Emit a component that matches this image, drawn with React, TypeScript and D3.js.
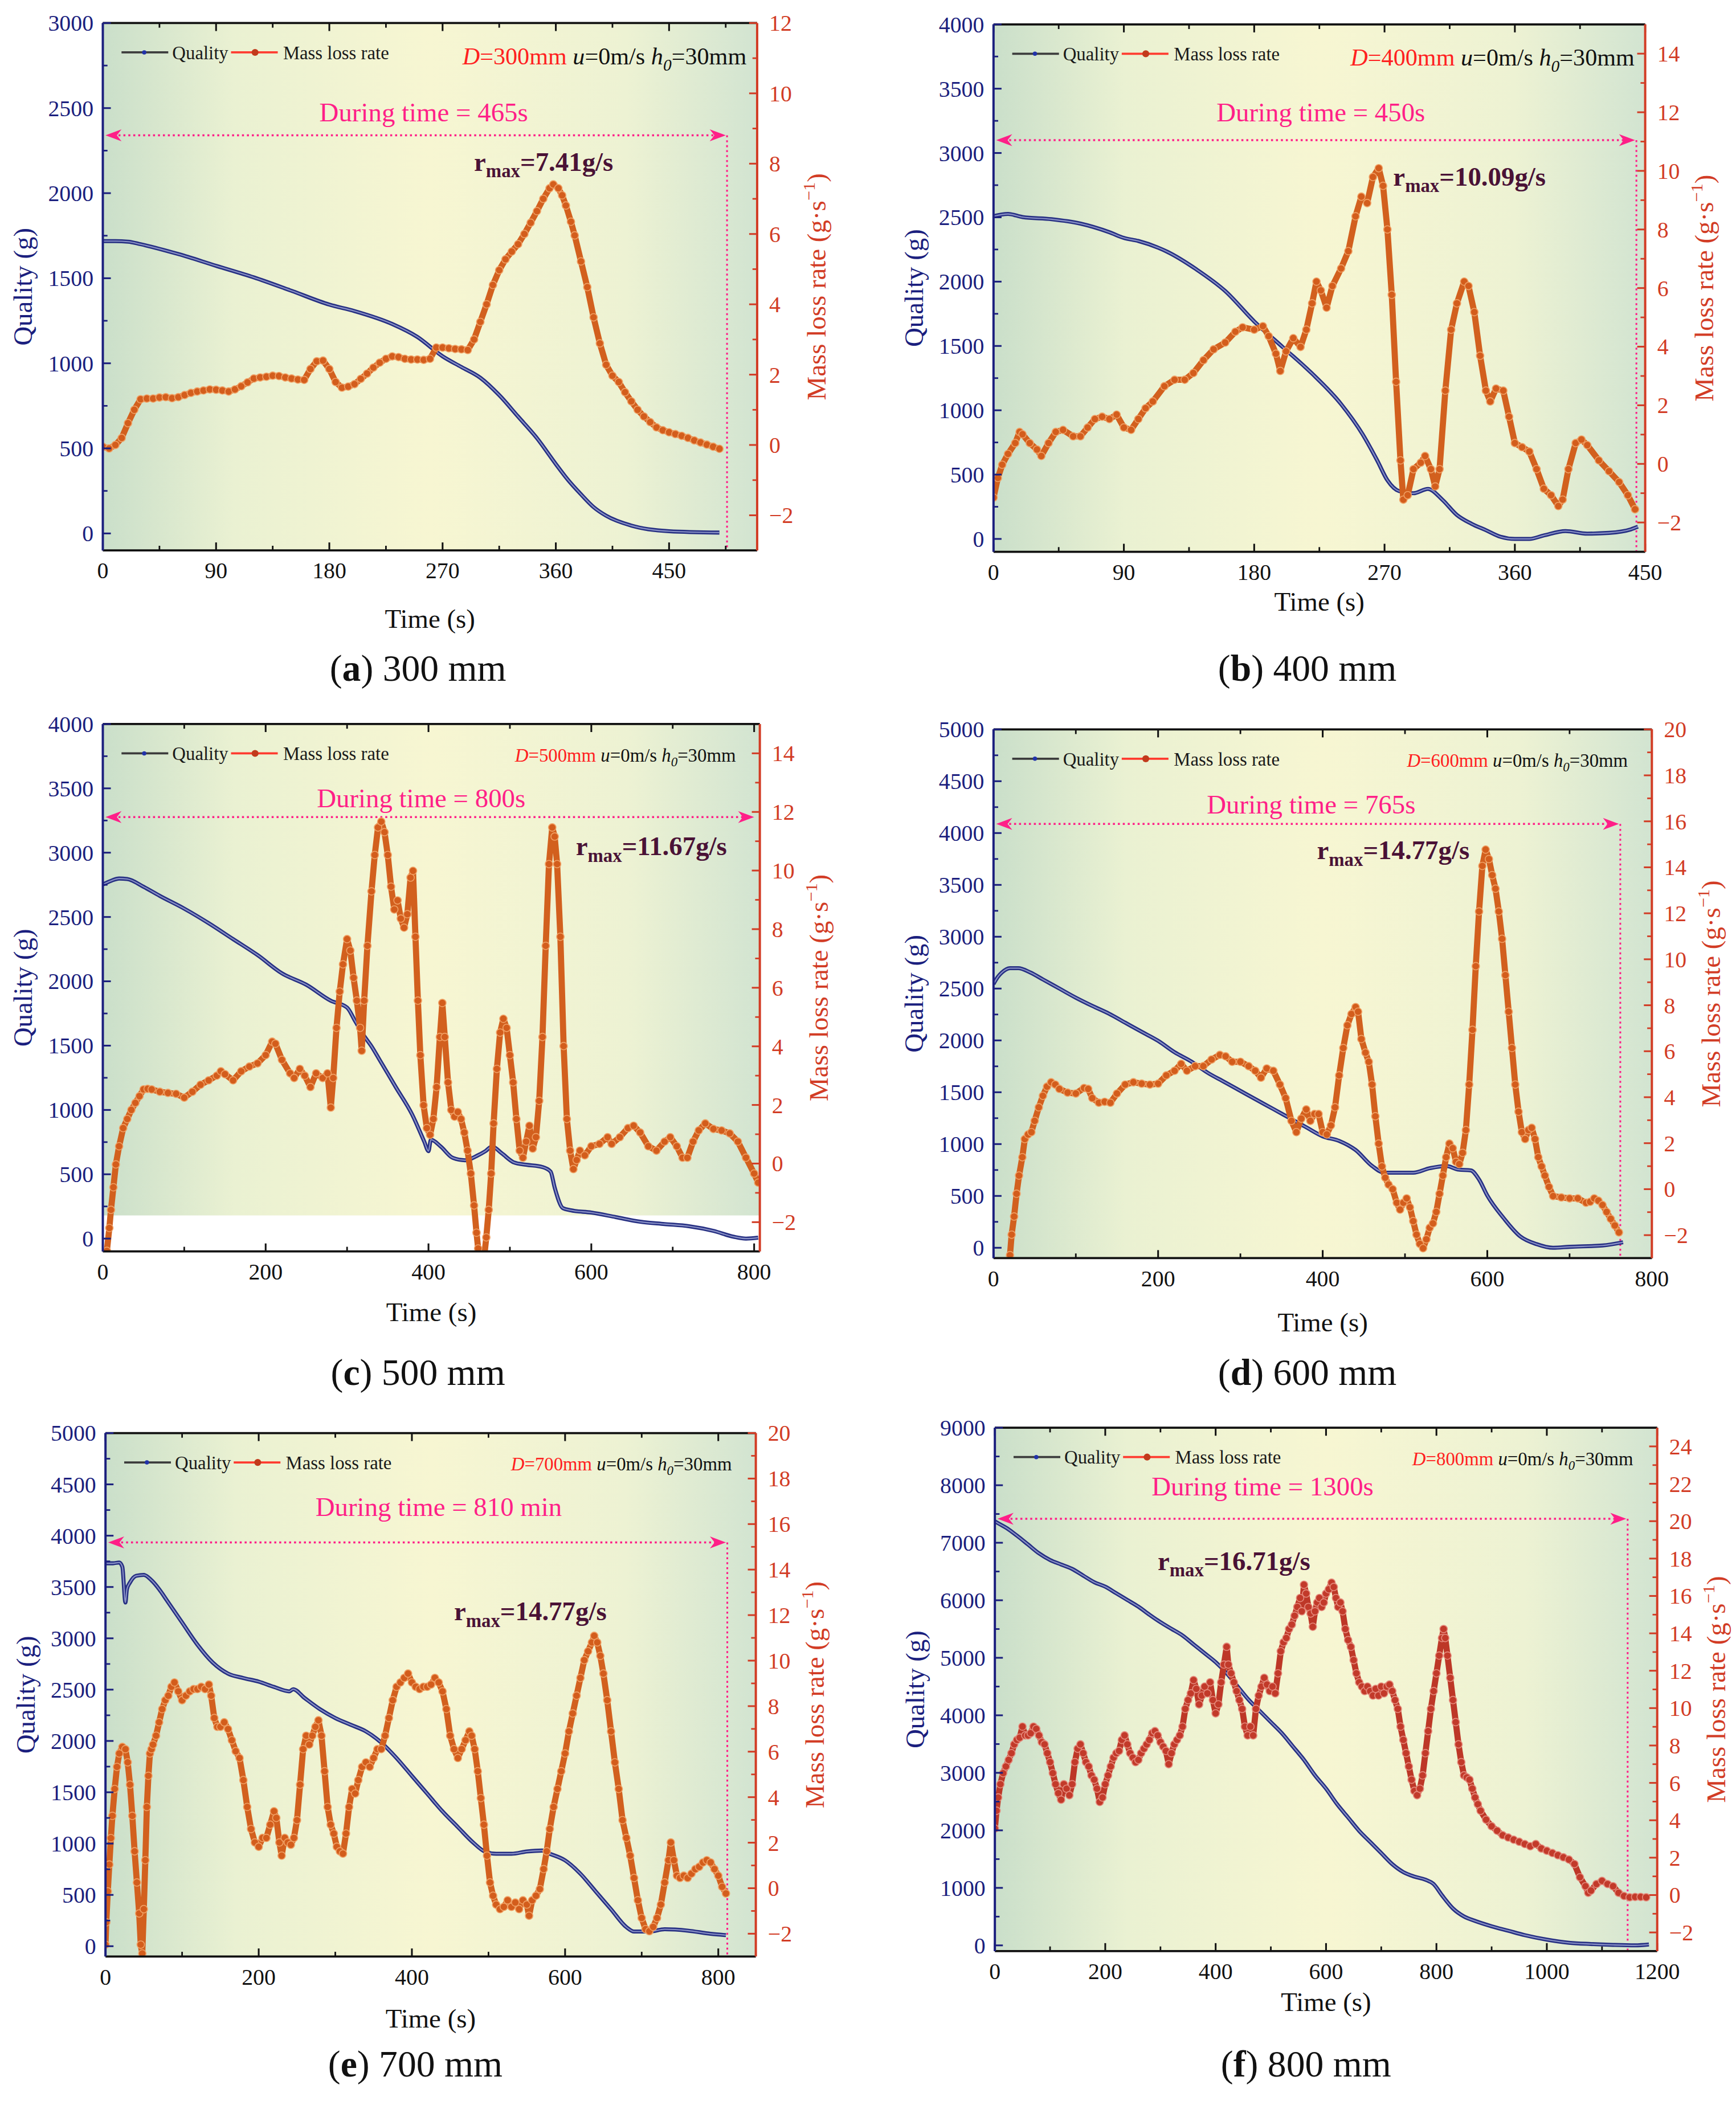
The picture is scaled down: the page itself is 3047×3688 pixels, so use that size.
import * as d3 from "d3";

type Pt = [number, number];

const FONT = "'Liberation Serif', 'Times New Roman', Times, serif";
const NAVY = "#1b1f7e";
const RED_AXIS = "#d23c25";
const MAGENTA = "#ff1f88";
const MAROON = "#4a1236";

// (a) D = 300 mm
const qualityA: Pt[] = [[0,1718],[10,1718],[20,1715],[30,1700],[60,1642],[90,1573],[120,1505],[150,1426],[180,1345],[200,1307],[230,1231],[250,1155],[270,1041],[285,978],[300,915],[315,813],[330,687],[345,560],[360,408],[370,312],[380,230],[390,155],[400,104],[420,46],[450,13],[490,5]];
const rateA: Pt[] = [[0,-0.05],[5,-0.1],[10,0],[15,0.2],[20,0.62],[25,1.0],[30,1.3],[35,1.32],[40,1.32],[45,1.35],[50,1.36],[55,1.33],[60,1.36],[65,1.42],[70,1.48],[75,1.52],[80,1.55],[85,1.58],[90,1.57],[95,1.55],[100,1.52],[105,1.58],[110,1.67],[115,1.78],[120,1.89],[125,1.92],[130,1.94],[135,1.97],[140,1.96],[145,1.92],[150,1.89],[155,1.86],[160,1.85],[165,2.16],[170,2.38],[175,2.4],[180,2.16],[185,1.79],[190,1.63],[195,1.66],[200,1.73],[205,1.88],[210,2.03],[215,2.2],[220,2.34],[225,2.45],[230,2.52],[235,2.5],[240,2.45],[245,2.43],[250,2.43],[255,2.42],[260,2.45],[265,2.77],[270,2.77],[275,2.75],[280,2.73],[285,2.72],[290,2.7],[295,3.0],[300,3.5],[305,4.0],[310,4.55],[315,4.97],[320,5.28],[325,5.5],[330,5.71],[335,6.0],[340,6.32],[345,6.65],[350,7.0],[355,7.3],[358,7.41],[362,7.3],[365,7.1],[368,6.81],[372,6.35],[375,5.96],[380,5.22],[385,4.49],[390,3.63],[395,2.89],[400,2.28],[405,1.97],[410,1.79],[415,1.5],[420,1.24],[425,1.0],[430,0.81],[435,0.65],[440,0.5],[445,0.42],[450,0.36],[455,0.31],[460,0.26],[465,0.2],[470,0.13],[475,0.07],[480,0.01],[485,-0.05],[490,-0.11]];

// (b) D = 400 mm
const qualityB: Pt[] = [[0,2509],[10,2526],[20,2502],[40,2485],[60,2451],[80,2384],[90,2340],[100,2316],[120,2232],[140,2096],[160,1927],[180,1691],[200,1488],[220,1285],[240,1048],[255,811],[265,609],[272,456],[280,372],[290,355],[300,389],[310,304],[320,186],[330,118],[340,68],[350,17],[360,0],[370,0],[380,27],[395,61],[410,41],[425,47],[440,74],[445,95]];
const rateB: Pt[] = [[0,-1.15],[3,-0.48],[6,-0.03],[10,0.34],[15,0.71],[18,1.09],[20,1.01],[25,0.71],[30,0.49],[33,0.27],[38,0.71],[43,1.09],[48,1.16],[55,0.94],[60,0.94],[65,1.24],[70,1.53],[75,1.61],[80,1.53],[85,1.68],[90,1.24],[95,1.16],[100,1.53],[105,1.9],[110,2.13],[118,2.65],[125,2.87],[132,2.87],[138,3.1],[145,3.54],[152,3.91],[160,4.14],[167,4.51],[172,4.66],[180,4.58],[186,4.7],[190,4.36],[195,3.76],[198,3.17],[202,3.84],[207,4.29],[212,3.99],[216,4.58],[220,5.48],[223,6.22],[226,5.92],[230,5.33],[234,6.07],[240,6.67],[245,7.26],[250,8.45],[254,9.12],[258,8.9],[262,9.79],[266,10.09],[269,9.49],[272,8.0],[275,5.77],[278,2.8],[281,0.12],[283,-1.22],[286,-1.07],[290,-0.18],[295,0.04],[298,0.27],[302,-0.18],[305,-0.77],[308,-0.18],[312,2.5],[316,4.58],[320,5.48],[325,6.22],[328,6.07],[332,5.18],[336,3.69],[340,2.5],[343,2.13],[347,2.57],[352,2.5],[356,1.61],[360,0.71],[365,0.57],[370,0.42],[375,-0.18],[380,-0.85],[385,-1.07],[390,-1.44],[393,-1.22],[397,-0.18],[402,0.71],[406,0.83],[410,0.64],[418,0.12],[425,-0.25],[432,-0.62],[438,-1.07],[443,-1.55]];

// (c) D = 500 mm
const qualityC: Pt[] = [[0,2753],[10,2781],[20,2799],[30,2795],[50,2735],[70,2664],[100,2565],[130,2452],[160,2328],[190,2204],[220,2062],[250,1973],[280,1849],[300,1796],[310,1690],[320,1584],[330,1495],[340,1389],[360,1176],[380,964],[395,751],[400,680],[403,769],[415,716],[430,627],[445,609],[460,645],[470,680],[478,716],[490,663],[505,592],[520,574],[540,556],[550,521],[555,397],[565,237],[575,220],[600,202],[630,167],[660,131],[690,113],[720,96],[750,60],[775,14],[790,0],[805,7]];
const rateC: Pt[] = [[5,-2.98],[8,-2.2],[10,-1.58],[13,-0.81],[16,-0.03],[20,0.59],[25,1.21],[30,1.52],[35,1.83],[40,2.07],[45,2.3],[50,2.53],[55,2.55],[60,2.53],[70,2.45],[80,2.41],[90,2.38],[100,2.25],[110,2.45],[120,2.69],[130,2.84],[140,3.0],[145,3.15],[150,3.05],[160,2.84],[170,3.15],[180,3.31],[190,3.42],[200,3.7],[208,4.16],[212,4.09],[220,3.54],[230,3.08],[235,2.92],[242,3.23],[248,3.0],[255,2.61],[262,3.08],[270,2.92],[276,3.08],[280,1.91],[283,2.92],[287,4.63],[291,5.87],[295,6.8],[300,7.66],[304,7.27],[308,6.34],[312,5.56],[316,4.63],[318,3.85],[321,5.56],[325,7.43],[330,9.29],[334,10.53],[338,11.47],[342,11.67],[346,11.31],[350,10.53],[354,9.45],[358,8.67],[362,8.98],[366,8.36],[370,8.05],[374,8.51],[378,9.76],[381,9.99],[384,7.74],[387,5.56],[390,3.7],[394,1.99],[398,1.21],[402,0.98],[406,1.52],[410,2.61],[414,4.32],[417,5.48],[420,4.32],[424,2.77],[428,1.83],[432,1.6],[436,1.76],[440,1.52],[444,1.06],[448,0.44],[452,-0.34],[456,-1.43],[459,-2.36],[461,-2.9],[464,-3.3],[468,-3.3],[471,-2.52],[474,-1.58],[477,-0.34],[480,1.37],[484,3.23],[488,4.47],[492,4.94],[496,4.63],[500,3.7],[504,2.77],[508,1.52],[512,0.44],[516,0.2],[520,0.75],[524,1.29],[528,0.51],[532,0.9],[536,2.14],[540,4.32],[544,7.43],[548,10.22],[552,11.47],[555,11.16],[558,10.22],[562,7.74],[566,4.01],[570,1.52],[574,0.44],[578,-0.19],[582,0.12],[586,0.44],[592,0.28],[600,0.59],[610,0.67],[620,0.9],[625,0.67],[635,0.9],[645,1.21],[652,1.29],[660,1.06],[670,0.59],[680,0.44],[690,0.75],[697,0.9],[705,0.59],[712,0.2],[718,0.2],[725,0.75],[732,1.13],[740,1.37],[750,1.18],[760,1.13],[770,1.03],[780,0.75],[790,0.2],[800,-0.34],[805,-0.65]];

// (d) D = 600 mm
const qualityD: Pt[] = [[0,2544],[5,2610],[10,2654],[20,2697],[30,2697],[45,2654],[60,2588],[80,2500],[100,2412],[120,2333],[140,2259],[160,2171],[180,2083],[200,1996],[220,1886],[240,1798],[260,1689],[280,1601],[300,1513],[320,1425],[340,1338],[360,1250],[380,1162],[400,1075],[420,1031],[440,943],[460,789],[475,724],[490,724],[510,724],[530,767],[550,789],[565,754],[580,746],[590,658],[600,504],[620,285],[640,110],[660,35],[680,0],[700,9],[740,22],[765,53]];
const rateD: Pt[] = [[20,-2.87],[22,-1.98],[25,-1.19],[28,-0.2],[31,0.59],[35,1.39],[38,2.18],[42,2.38],[46,2.48],[50,2.97],[55,3.56],[60,4.06],[65,4.46],[70,4.65],[75,4.55],[80,4.36],[90,4.2],[100,4.16],[110,4.4],[115,4.36],[120,3.96],[128,3.76],[135,3.8],[142,3.76],[150,4.16],[160,4.55],[170,4.65],[180,4.59],[190,4.55],[200,4.59],[210,4.95],[220,5.15],[228,5.45],[235,5.15],[245,5.35],[255,5.35],[265,5.64],[275,5.84],[282,5.78],[290,5.54],[300,5.54],[310,5.35],[318,5.15],[325,4.85],[332,5.25],[340,5.15],[348,4.55],[355,3.96],[362,2.97],[368,2.48],[374,3.07],[380,3.47],[385,2.97],[390,3.27],[395,3.27],[400,2.48],[405,2.38],[410,2.77],[415,3.56],[420,4.95],[425,6.14],[430,7.13],[435,7.62],[440,7.92],[443,7.72],[447,6.53],[452,5.94],[456,5.54],[460,4.55],[464,3.17],[468,1.98],[472,0.99],[476,0.5],[480,0.2],[485,0],[490,-0.59],[494,-0.89],[498,-0.59],[502,-0.4],[506,-0.79],[510,-1.39],[514,-1.98],[518,-2.38],[522,-2.57],[526,-2.18],[530,-1.68],[534,-1.49],[538,-0.99],[542,-0.2],[546,0.59],[550,1.39],[554,1.98],[558,1.78],[562,1.19],[566,1.09],[570,1.58],[574,2.57],[578,4.55],[582,6.93],[586,9.7],[590,12.08],[594,14.06],[598,14.77],[602,14.36],[606,13.66],[610,13.07],[614,12.08],[618,10.89],[622,9.31],[626,7.72],[630,6.14],[634,4.55],[638,3.37],[642,2.48],[646,2.18],[650,2.57],[654,2.67],[658,2.18],[662,1.39],[666,0.99],[670,0.59],[675,0.1],[680,-0.3],[690,-0.36],[700,-0.4],[710,-0.4],[720,-0.59],[725,-0.55],[730,-0.4],[735,-0.5],[740,-0.69],[745,-0.99],[750,-1.29],[755,-1.58],[760,-1.88]];

// (e) D = 700 mm
const qualityE: Pt[] = [[0,3731],[10,3731],[18,3739],[22,3696],[26,3349],[28,3479],[32,3544],[40,3609],[50,3618],[60,3566],[70,3479],[80,3371],[100,3154],[120,2938],[140,2764],[160,2656],[180,2613],[200,2578],[220,2526],[240,2483],[245,2504],[260,2418],[280,2309],[300,2223],[320,2158],[340,2093],[360,1984],[380,1833],[400,1659],[420,1486],[440,1313],[460,1161],[480,1010],[495,923],[510,901],[530,901],[550,923],[570,932],[580,901],[600,836],[620,706],[640,533],[660,360],[680,186],[690,143],[710,143],[730,165],[760,152],[790,121],[810,108]];
const rateE: Pt[] = [[0,-2.48],[1,-1.5],[3,-0.14],[5,1.04],[7,2.2],[9,3.18],[12,4.36],[15,5.33],[18,5.92],[22,6.21],[26,6.11],[29,5.53],[32,4.55],[35,3.18],[38,1.62],[41,0.25],[44,-1.11],[46,-2.48],[48,-2.87],[50,-0.92],[52,1.23],[54,3.57],[56,4.94],[58,5.92],[60,6.11],[62,6.31],[66,6.7],[70,7.29],[74,7.87],[78,8.26],[82,8.46],[86,8.85],[90,9.04],[95,8.65],[100,8.26],[105,8.46],[110,8.65],[115,8.75],[120,8.75],[125,8.85],[130,8.75],[135,8.95],[138,8.46],[142,7.48],[146,7.09],[150,7.09],[155,7.29],[160,6.99],[165,6.5],[170,6.02],[175,5.72],[180,4.75],[185,3.57],[190,2.6],[195,2.01],[200,1.82],[205,2.21],[210,2.21],[215,2.79],[220,3.38],[223,3.09],[227,2.01],[230,1.43],[234,2.21],[238,2.01],[242,1.91],[246,2.21],[250,2.99],[254,4.55],[258,6.11],[262,6.7],[266,6.31],[270,6.7],[274,7.09],[278,7.38],[282,6.7],[286,5.14],[290,3.57],[294,2.79],[298,2.4],[302,1.82],[306,1.62],[310,1.52],[314,2.4],[318,3.57],[322,4.36],[326,4.16],[330,4.75],[335,5.33],[340,5.53],[345,5.33],[350,5.72],[355,6.11],[360,6.11],[365,6.7],[370,7.48],[375,8.26],[380,8.85],[385,9.04],[390,9.24],[395,9.43],[400,9.04],[405,8.85],[410,8.75],[415,8.85],[420,8.85],[425,8.95],[430,9.24],[435,9.04],[440,8.65],[445,7.87],[450,6.7],[455,6.11],[460,5.72],[465,6.11],[470,6.5],[475,6.89],[478,6.7],[482,6.11],[486,5.14],[490,3.96],[494,2.79],[498,1.43],[502,0.25],[506,-0.33],[510,-0.72],[515,-0.92],[520,-0.82],[525,-0.53],[530,-0.82],[535,-0.63],[540,-0.92],[545,-0.53],[550,-0.72],[553,-1.21],[557,-0.53],[562,-0.33],[567,-0.04],[572,0.84],[576,1.62],[580,2.6],[585,3.57],[590,4.36],[595,5.14],[600,5.92],[605,6.89],[610,7.68],[615,8.46],[620,9.24],[625,10.02],[630,10.41],[635,10.8],[638,11.09],[642,10.8],[646,10.21],[650,9.43],[655,8.26],[660,6.89],[665,5.53],[670,4.36],[675,2.99],[680,2.21],[685,1.43],[690,0.45],[695,-0.53],[700,-1.31],[705,-1.8],[710,-1.89],[715,-1.7],[720,-1.31],[725,-0.72],[730,0.25],[735,1.23],[738,2.01],[742,1.23],[746,0.55],[750,0.45],[755,0.55],[760,0.45],[765,0.64],[770,0.84],[775,0.94],[780,1.13],[785,1.23],[790,1.13],[795,0.84],[800,0.55],[805,0.06],[810,-0.23]];

// (f) D = 800 mm
const qualityF: Pt[] = [[0,7371],[10,7317],[20,7263],[40,7124],[60,6970],[80,6815],[100,6700],[120,6622],[140,6545],[160,6429],[180,6314],[200,6236],[220,6121],[240,6005],[260,5889],[280,5750],[300,5619],[320,5503],[340,5388],[360,5233],[380,5079],[400,4924],[420,4731],[440,4500],[460,4268],[480,4075],[500,3882],[520,3689],[540,3458],[560,3226],[580,2956],[600,2725],[620,2455],[640,2223],[660,1991],[680,1798],[700,1605],[720,1412],[740,1274],[760,1196],[780,1142],[795,1065],[810,872],[830,641],[850,502],[870,425],[900,332],[930,255],[960,178],[1000,100],[1040,46],[1080,23],[1120,8],[1160,0],[1185,15]];
const rateF: Pt[] = [[0,3.56],[3,4.51],[6,5.22],[10,5.93],[15,6.52],[20,6.88],[25,7.23],[30,7.59],[35,8.06],[40,8.3],[45,8.42],[50,9.01],[55,8.54],[60,8.54],[65,8.66],[70,9.01],[75,8.89],[80,8.54],[85,8.18],[90,8.06],[95,7.59],[100,7.11],[105,6.52],[110,5.93],[115,5.45],[120,5.1],[125,5.93],[130,5.69],[135,5.34],[140,5.93],[145,7.11],[150,7.83],[155,8.06],[160,7.59],[165,7.11],[170,6.88],[175,6.4],[180,6.17],[185,5.69],[190,4.98],[195,5.22],[200,5.93],[205,6.4],[210,6.88],[215,7.35],[220,7.59],[225,7.71],[230,8.3],[235,8.54],[240,8.06],[245,7.59],[250,7.35],[255,7.11],[260,7.23],[265,7.59],[270,7.83],[275,8.06],[280,8.3],[285,8.66],[290,8.77],[295,8.54],[300,8.18],[305,7.94],[310,7.71],[315,7.0],[320,7.59],[325,8.06],[330,8.3],[335,8.54],[340,9.01],[345,9.96],[350,10.43],[355,10.79],[360,11.5],[365,11.03],[370,10.2],[375,10.67],[380,11.15],[385,10.79],[390,11.38],[395,10.43],[400,9.72],[405,10.2],[410,11.38],[415,12.33],[420,13.28],[423,12.33],[428,11.86],[433,11.38],[438,10.91],[443,10.43],[448,9.96],[453,9.01],[458,8.54],[463,9.01],[468,8.54],[473,9.96],[478,10.67],[483,11.15],[488,11.62],[493,11.26],[498,10.91],[503,11.15],[508,10.79],[513,11.86],[518,13.04],[523,13.52],[528,13.75],[533,14.23],[538,14.47],[543,14.94],[548,15.41],[553,15.89],[556,15.18],[560,16.6],[564,16.13],[568,15.41],[572,15.06],[576,14.35],[580,15.18],[584,15.65],[588,15.89],[592,15.41],[596,15.65],[600,16.13],[605,16.36],[610,16.71],[614,16.48],[618,15.89],[622,15.41],[626,15.65],[630,15.18],[635,14.23],[640,13.64],[645,13.28],[650,12.57],[655,11.86],[660,11.38],[665,11.15],[670,10.91],[675,11.15],[680,10.91],[685,10.67],[690,11.03],[695,10.67],[700,11.15],[705,10.79],[710,11.15],[715,11.26],[720,10.91],[725,10.43],[730,9.96],[735,9.01],[740,8.3],[745,7.59],[750,6.88],[755,6.17],[760,5.57],[765,5.34],[770,5.69],[775,6.4],[780,7.59],[785,8.77],[790,9.96],[795,10.91],[800,11.86],[805,12.81],[810,13.75],[813,14.23],[816,13.75],[820,12.81],[825,11.62],[830,10.43],[835,9.25],[840,8.06],[845,7.11],[850,6.4],[855,6.29],[860,6.17],[865,5.69],[870,5.22],[875,4.86],[880,4.51],[890,4.03],[900,3.68],[910,3.44],[920,3.2],[930,3.08],[940,2.96],[950,2.85],[960,2.73],[970,2.61],[980,2.73],[990,2.49],[1000,2.37],[1010,2.25],[1020,2.13],[1030,2.02],[1040,1.9],[1050,1.66],[1060,0.95],[1070,0.47],[1075,0.12],[1080,0.24],[1090,0.59],[1100,0.76],[1110,0.59],[1120,0.47],[1130,0.12],[1140,-0.05],[1150,-0.12],[1160,-0.1],[1170,-0.1],[1180,-0.12]];

// tick values
const xTicks90 = [0, 90, 180, 270, 360, 450];
const xTicks200 = [0, 200, 400, 600, 800];
const xTicks1200 = [0, 200, 400, 600, 800, 1000, 1200];

type Cfg = {
  id: string; label: string; size: string;
  L: number; R: number; T: number; B: number;
  xMax: number; xTicks: number[]; xMinor: number;
  yL: [number, number]; lStep: number; lMinor: number;
  yR: [number, number];
  quality: Pt[]; rate: Pt[];
  diam: string; bigNote: boolean;
  dur: string; durX: number; durY: number;
  arrowY: number; arrowEnd: number; vline: boolean;
  rmax: string; rmaxX: number; rmaxY: number;
  timeY: number; capX: number; capY: number;
  bgBottom?: number; crimson?: boolean;
};

const panels: Cfg[] = [
  { id: "a", label: "a", size: "300 mm", L: 77, R: 567, T: 17, B: 412, xMax: 520, xTicks: xTicks90, xMinor: 45,
    yL: [-100, 3000], lStep: 500, lMinor: 250, yR: [-3, 12], quality: qualityA, rate: rateA,
    diam: "300", bigNote: true, dur: "During time = 465s", durX: 255, durY: 2422, arrowY: 2340, arrowEnd: 495, vline: true,
    rmax: "=7.41g/s", rmaxX: 295, rmaxY: 7.8, timeY: 463, capX: 313, capY: 500 },
  { id: "b", label: "b", size: "400 mm", L: 744, R: 1232, T: 18, B: 413, xMax: 450, xTicks: xTicks90, xMinor: 45,
    yL: [-100, 4000], lStep: 500, lMinor: 250, yR: [-3, 15], quality: qualityB, rate: rateB,
    diam: "400", bigNote: true, dur: "During time = 450s", durX: 226, durY: 3246, arrowY: 3100, arrowEnd: 443, vline: true,
    rmax: "=10.09g/s", rmaxX: 276, rmaxY: 9.5, timeY: 450, capX: 979, capY: 500 },
  { id: "c", label: "c", size: "500 mm", L: 77, R: 569, T: 542, B: 937, xMax: 807, xTicks: xTicks200, xMinor: 100,
    yL: [-100, 4000], lStep: 500, lMinor: 250, yR: [-3, 15], quality: qualityC, rate: rateC,
    diam: "500", bigNote: false, dur: "During time = 800s", durX: 391, durY: 3355, arrowY: 3277, arrowEnd: 800, vline: false,
    rmax: "=11.67g/s", rmaxX: 581, rmaxY: 10.53, timeY: 982, capX: 313, capY: 1027, bgBottom: 180 },
  { id: "d", label: "d", size: "600 mm", L: 744, R: 1237, T: 546, B: 942, xMax: 800, xTicks: xTicks200, xMinor: 100,
    yL: [-100, 5000], lStep: 500, lMinor: 250, yR: [-3, 20], quality: qualityD, rate: rateD,
    diam: "600", bigNote: false, dur: "During time = 765s", durX: 386, durY: 4189, arrowY: 4088, arrowEnd: 760, vline: true,
    rmax: "=14.77g/s", rmaxX: 393, rmaxY: 14.36, timeY: 990, capX: 979, capY: 1027 },
  { id: "e", label: "e", size: "700 mm", L: 79, R: 566, T: 1073, B: 1465, xMax: 849, xTicks: xTicks200, xMinor: 100,
    yL: [-100, 5000], lStep: 500, lMinor: 250, yR: [-3, 20], quality: qualityE, rate: rateE,
    diam: "700", bigNote: false, dur: "During time = 810 min", durX: 435, durY: 4194, arrowY: 3934, arrowEnd: 810, vline: true,
    rmax: "=14.77g/s", rmaxX: 455, rmaxY: 11.78, timeY: 1511, capX: 311, capY: 1545 },
  { id: "f", label: "f", size: "800 mm", L: 745, R: 1241, T: 1069, B: 1461, xMax: 1200, xTicks: xTicks1200, xMinor: 100,
    yL: [-100, 9000], lStep: 1000, lMinor: 500, yR: [-3, 25], quality: qualityF, rate: rateF,
    diam: "800", bigNote: false, dur: "During time = 1300s", durX: 485, durY: 7819, arrowY: 7417, arrowEnd: 1144, vline: true,
    rmax: "=16.71g/s", rmaxX: 295, rmaxY: 17.4, timeY: 1499, capX: 978, capY: 1545, crimson: true },
];

const fmt = (v: number) => (v < 0 ? "\u2212" + Math.abs(v) : String(v));

function Panel({ c }: { c: Cfg }) {
  const { L, R, T, B } = c;
  const x = d3.scaleLinear().domain([0, c.xMax]).range([L, R]);
  const yL = d3.scaleLinear().domain(c.yL).range([B, T]);
  const yR = d3.scaleLinear().domain(c.yR).range([B, T]);

  const qLine = d3.line<Pt>().x((d) => x(d[0])).y((d) => yL(d[1])).curve(d3.curveMonotoneX);
  const rLine = d3.line<Pt>().x((d) => x(d[0])).y((d) => yR(d[1]));

  const xMinor = d3.range(0, c.xMax + 0.01, c.xMinor).filter((v) => !c.xTicks.includes(v));
  const lMajor = d3.range(0, c.yL[1] + 0.01, c.lStep);
  const lMinor = d3.range(c.lMinor, c.yL[1], c.lMinor).filter((v) => v % c.lStep !== 0);
  const rMajor = d3.range(-2, c.yR[1] + 0.01, 2);
  const rMinor = d3.range(c.yR[0] + 1, c.yR[1], 1).filter((v) => Math.abs(v) % 2 === 1);

  const beadFill = c.crimson ? "#c23a2a" : "#d35d1c";
  const beadRim = c.crimson ? "#e58a7c" : "#f0a064";
  const bandColor = c.crimson ? "#bd3727" : "#d2601e";

  const bgBottom = c.bgBottom !== undefined ? yL(c.bgBottom) : B;
  const ay = yL(c.arrowY);
  const ax0 = L + 2;
  const ax1 = x(c.arrowEnd);
  const midY = (T + B) / 2;
  const noteSize = c.bigNote ? 18 : 14;
  const noteX = c.bigNote ? R - 8 : R - 18;
  const noteY = c.bigNote ? T + 31 : T + 28;
  const qPath = qLine(c.quality) ?? "";

  return (
    <g fontFamily={FONT}>
      <defs>
        <linearGradient id={`bg-${c.id}`} x1="0" x2="1" y1="0" y2="0">
          <stop offset="0" stopColor="#cadfca" />
          <stop offset="0.2" stopColor="#eaf1d2" />
          <stop offset="0.5" stopColor="#f7f6d2" />
          <stop offset="0.8" stopColor="#edf2d3" />
          <stop offset="1" stopColor="#d2e4d1" />
        </linearGradient>
        <clipPath id={`clip-${c.id}`}>
          <rect x={L} y={T} width={R - L} height={B - T} />
        </clipPath>
      </defs>

      <rect x={L} y={T} width={R - L} height={bgBottom - T} fill={`url(#bg-${c.id})`} />

      {/* legend */}
      <g fontSize={14} fill="#1a1a1a">
        <line x1={L + 14} x2={L + 49} y1={T + 22} y2={T + 22} stroke="#3c3c3c" strokeWidth={1.6} />
        <circle cx={L + 31} cy={T + 22} r={1.6} fill="#2233aa" />
        <text x={L + 52} y={T + 27}>Quality</text>
        <line x1={L + 96} x2={L + 131} y1={T + 22} y2={T + 22} stroke="#ff3b2f" strokeWidth={1.6} />
        <circle cx={L + 114} cy={T + 22} r={2.6} fill="#c23a1c" />
        <text x={L + 135} y={T + 27}>Mass loss rate</text>
      </g>

      {/* conditions */}
      <text x={noteX} y={noteY} textAnchor="end" fontSize={noteSize} fill="#111">
        <tspan fill="#ff2020" fontStyle="italic">D</tspan>
        <tspan fill="#ff2020">{`=${c.diam}mm `}</tspan>
        <tspan fontStyle="italic">u</tspan>
        <tspan>=0m/s </tspan>
        <tspan fontStyle="italic">h</tspan>
        <tspan fontStyle="italic" fontSize={noteSize * 0.7} dy={noteSize * 0.25}>0</tspan>
        <tspan dy={-noteSize * 0.25}>=30mm</tspan>
      </text>

      {/* duration */}
      <text x={x(c.durX)} y={yL(c.durY)} textAnchor="middle" fontSize={20} fill={MAGENTA}>{c.dur}</text>
      <line x1={ax0 + 6} x2={ax1 - 6} y1={ay} y2={ay} stroke={MAGENTA} strokeWidth={1.5} strokeDasharray="1.5 2.2" />
      <path d={`M${ax0},${ay} l12,-4.5 l-3.5,4.5 l3.5,4.5 Z`} fill={MAGENTA} />
      <path d={`M${ax1},${ay} l-12,-4.5 l3.5,4.5 l-3.5,4.5 Z`} fill={MAGENTA} />
      {c.vline && (
        <line x1={ax1 + 1} x2={ax1 + 1} y1={ay} y2={B} stroke={MAGENTA} strokeWidth={1.3} strokeDasharray="1.5 2.2" />
      )}

      {/* rmax */}
      <text x={x(c.rmaxX)} y={yR(c.rmaxY)} fontSize={20} fontWeight="bold" fill={MAROON}>
        r<tspan fontSize={14} dy={5}>max</tspan>
        <tspan dy={-5}>{c.rmax}</tspan>
      </text>

      <g clipPath={`url(#clip-${c.id})`}>
        {/* quality */}
        <path d={qPath} fill="none" stroke="#262f82" strokeWidth={3} strokeLinejoin="round" />
        <path d={qPath} fill="none" stroke="#8b93c8" strokeWidth={0.9} strokeLinejoin="round" />
        {/* mass loss rate */}
        <path d={rLine(c.rate) ?? ""} fill="none" stroke={bandColor} strokeWidth={4.6} strokeLinejoin="round" strokeLinecap="round" />
        {c.rate.map((d, i) => (
          <circle key={i} cx={x(d[0])} cy={yR(d[1])} r={2.8} fill={beadFill} stroke={beadRim} strokeWidth={0.7} />
        ))}
      </g>

      {/* frame: top and bottom */}
      <line x1={L} x2={R} y1={T} y2={T} stroke="#111" strokeWidth={1.6} />
      <line x1={L} x2={R} y1={B} y2={B} stroke="#111" strokeWidth={1.6} />
      {c.xTicks.map((v) => (
        <g key={`xt${v}`}>
          <line x1={x(v)} x2={x(v)} y1={B} y2={B - 6} stroke="#111" strokeWidth={1.3} />
          <line x1={x(v)} x2={x(v)} y1={T} y2={T + 6} stroke="#111" strokeWidth={1.3} />
          <text x={x(v)} y={B + 21} textAnchor="middle" fontSize={17} fill="#111">{v}</text>
        </g>
      ))}
      {xMinor.map((v) => (
        <g key={`xm${v}`}>
          <line x1={x(v)} x2={x(v)} y1={B} y2={B - 3.5} stroke="#111" strokeWidth={1.2} />
          <line x1={x(v)} x2={x(v)} y1={T} y2={T + 3.5} stroke="#111" strokeWidth={1.2} />
        </g>
      ))}

      {/* left axis */}
      <line x1={L} x2={L} y1={T} y2={B} stroke={NAVY} strokeWidth={1.7} />
      {lMajor.map((v) => (
        <g key={`l${v}`}>
          <line x1={L} x2={L + 6} y1={yL(v)} y2={yL(v)} stroke={NAVY} strokeWidth={1.3} />
          <text x={L - 7} y={yL(v)} dy="0.35em" textAnchor="end" fontSize={17} fill={NAVY}>{v}</text>
        </g>
      ))}
      {lMinor.map((v) => (
        <line key={`lm${v}`} x1={L} x2={L + 3.5} y1={yL(v)} y2={yL(v)} stroke={NAVY} strokeWidth={1.2} />
      ))}
      <text transform={`translate(${L - 60},${midY}) rotate(-90)`} dy="0.35em" textAnchor="middle" fontSize={20} fill={NAVY}>
        Quality (g)
      </text>

      {/* right axis */}
      <line x1={R} x2={R} y1={T} y2={B} stroke={RED_AXIS} strokeWidth={1.7} />
      {rMajor.map((v) => (
        <g key={`r${v}`}>
          <line x1={R} x2={R - 6} y1={yR(v)} y2={yR(v)} stroke={RED_AXIS} strokeWidth={1.3} />
          <text x={R + 9} y={yR(v)} dy="0.35em" textAnchor="start" fontSize={17} fill={RED_AXIS}>{fmt(v)}</text>
        </g>
      ))}
      {rMinor.map((v) => (
        <line key={`rm${v}`} x1={R} x2={R - 3.5} y1={yR(v)} y2={yR(v)} stroke={RED_AXIS} strokeWidth={1.2} />
      ))}
      <text transform={`translate(${R + 44},${midY}) rotate(-90)`} dy="0.35em" textAnchor="middle" fontSize={20} fill={RED_AXIS}>
        Mass loss rate (g·s<tspan fontSize={13} dy={-8}>−1</tspan>
        <tspan dy={8}>)</tspan>
      </text>

      {/* x title and caption */}
      <text x={(L + R) / 2} y={c.timeY} dy="0.35em" textAnchor="middle" fontSize={20} fill="#111">Time (s)</text>
      <text x={c.capX} y={c.capY} dy="0.35em" textAnchor="middle" fontSize={28} fill="#111">
        (<tspan fontWeight="bold">{c.label}</tspan>) {c.size}
      </text>
    </g>
  );
}

export default function App() {
  return (
    <svg
      width={3047}
      height={3688}
      viewBox="0 0 1300 1573"
      style={{ position: "absolute", left: 0, top: 0, background: "#fff" }}
    >
      <rect x={0} y={0} width={1300} height={1573} fill="#fff" />
      {panels.map((p) => (
        <Panel key={p.id} c={p} />
      ))}
    </svg>
  );
}
